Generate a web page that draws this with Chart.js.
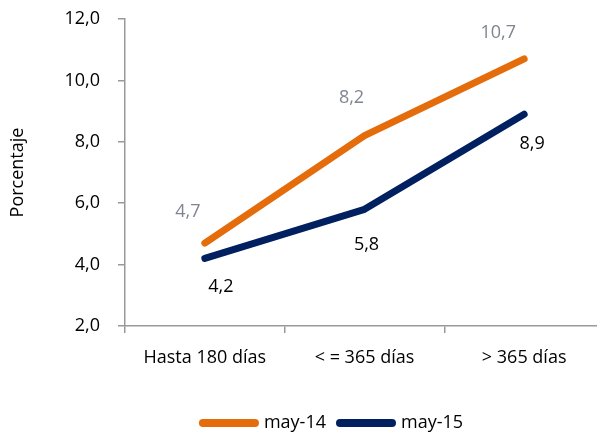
<!DOCTYPE html>
<html>
<head>
<meta charset="utf-8">
<script src="https://cdn.jsdelivr.net/npm/chart.js@4/dist/chart.umd.min.js"></script>
<style>
  html, body { margin: 0; padding: 0; background: #fff; overflow: hidden; }
  #wrap { width: 604px; height: 433px; }
</style>
</head>
<body>
<div id="wrap"><canvas id="line-chart"></canvas></div>
<script>
// Line chart
// ------------------------------
var categories = ["Hasta 180 días", "< = 365 días", "> 365 días"];
var may14 = [4.7, 8.2, 10.7];
var may15 = [4.2, 5.8, 8.9];
var seriesNames = ["may-14", "may-15"];
var yTicks = [2, 4, 6, 8, 10, 12];

var FONT = "'Open Sans', sans-serif";

function fmt(v) {
    return v.toFixed(1).replace(".", ",");
}

// value labels next to each point
var labelOffsets = [
    [[-17, -31], [-13, -38], [-26, -26]],
    [[16, 28], [2, 36], [8, 30]]
];
var labelColors = ["#7f8590", "#000000"];

var valueLabels = {
    id: "valueLabels",
    afterDatasetsDraw: function(chart) {
        var ctx = chart.ctx;
        ctx.save();
        ctx.font = "18px " + FONT;
        ctx.textAlign = "center";
        ctx.textBaseline = "middle";
        chart.data.datasets.forEach(function(ds, i) {
            var meta = chart.getDatasetMeta(i);
            ctx.fillStyle = labelColors[i];
            meta.data.forEach(function(pt, j) {
                var off = labelOffsets[i][j];
                ctx.fillText(fmt(ds.data[j]), pt.x + off[0], pt.y + off[1]);
            });
        });
        ctx.restore();
    }
};

// nudge the legend so it sits where the original one is
var legendShift = {
    id: "legendShift",
    afterLayout: function(chart) {
        var lg = chart.legend;
        if (lg) {
            lg.left += 62;
            lg.top += 9;
            lg.bottom += 9;
            lg.adjustHitBoxes();
        }
    }
};

var ctx = document.getElementById("line-chart");

var chartData = {
    labels: categories,
    datasets: [{
        label: seriesNames[0],
        data: may14,
        borderColor: "#e46c0a",
        backgroundColor: "#e46c0a",
        borderWidth: 7,
        borderCapStyle: "round",
        borderJoinStyle: "round",
        pointRadius: 0,
        tension: 0
    }, {
        label: seriesNames[1],
        data: may15,
        borderColor: "#002060",
        backgroundColor: "#002060",
        borderWidth: 7,
        borderCapStyle: "round",
        borderJoinStyle: "round",
        pointRadius: 0,
        tension: 0
    }]
};

var chartOptions = {
    responsive: true,
    maintainAspectRatio: false,
    animation: false,
    layout: { padding: { top: 19, left: 0, right: 0, bottom: 0 } },
    plugins: {
        tooltip: { enabled: false },
        legend: {
            position: "bottom",
            labels: {
                usePointStyle: true,
                pointStyle: "line",
                pointStyleWidth: 52,
                boxHeight: 8,
                color: "#000",
                padding: 14,
                font: { family: FONT, size: 18 },
                generateLabels: function(chart) {
                    return chart.data.datasets.map(function(ds, i) {
                        return {
                            text: ds.label,
                            strokeStyle: ds.borderColor,
                            fillStyle: ds.borderColor,
                            lineWidth: 8,
                            lineCap: "round",
                            pointStyle: "line",
                            datasetIndex: i
                        };
                    });
                }
            }
        }
    },
    scales: {
        x: {
            offset: true,
            afterFit: function(scale) {
                scale.height = 65;
                scale.paddingLeft = 0;
                scale.paddingRight = 0;
            },
            grid: {
                offset: true,
                drawOnChartArea: false,
                drawTicks: true,
                tickLength: 7,
                color: "#999",
                lineWidth: 1.5
            },
            border: { color: "#999", width: 1.5 },
            ticks: {
                color: "#000",
                padding: 14,
                maxRotation: 0,
                font: { family: FONT, size: 18 }
            }
        },
        y: {
            min: 2,
            max: 12,
            afterFit: function(scale) {
                scale.width = 125;
                scale.paddingTop = 0;
                scale.paddingBottom = 0;
            },
            afterBuildTicks: function(scale) {
                scale.ticks = yTicks.map(function(v) { return { value: v }; });
            },
            grid: {
                drawOnChartArea: false,
                drawTicks: true,
                tickLength: 7,
                color: "#999",
                lineWidth: 1.5
            },
            border: { color: "#999", width: 1.5 },
            ticks: {
                color: "#000",
                padding: 18,
                font: { family: FONT, size: 18 },
                callback: function(v) { return fmt(v); }
            },
            title: {
                display: true,
                text: "Porcentaje",
                color: "#000",
                padding: { top: 7, bottom: 0 },
                font: { family: FONT, size: 18 }
            }
        }
    }
};

var config = {
    type: "line",
    options: chartOptions,
    data: chartData,
    plugins: [valueLabels, legendShift]
};

// Create the chart
var lineChart = new Chart(ctx, config);
</script>
</body>
</html>
